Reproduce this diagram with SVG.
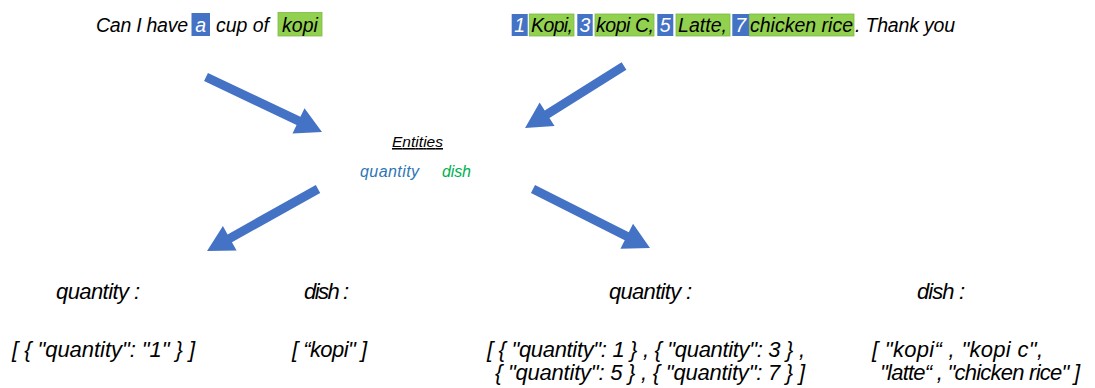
<svg xmlns="http://www.w3.org/2000/svg" width="1095" height="388" viewBox="0 0 1095 388">
<style>
text{font-family:"Liberation Sans",Arial,sans-serif;font-style:italic;fill:#000}
.t19{font-size:19.5px}
.num{fill:#fff;text-anchor:middle}
.qb{fill:#4472C4}
.gb{fill:#92D050;stroke:#7DBA45;stroke-width:0.8}
.lbl{font-size:22px}
.arrow{fill:#4472C4}
</style>
<rect width="1095" height="388" fill="#fff"/>
<g id="input1" class="t19">
<text x="96" y="32" textLength="92">Can I have</text>
<rect class="qb" x="191.5" y="13" width="18.5" height="23"/>
<text class="num" x="200.7" y="32">a</text>
<text x="216" y="32" textLength="53">cup of</text>
<rect class="gb" x="278" y="12.5" width="44" height="23.5"/>
<text x="300" y="32" text-anchor="middle">kopi</text>
</g>
<g id="input2" class="t19">
<rect class="qb" x="511.7" y="14" width="16" height="22"/>
<text class="num" x="519.7" y="32">1</text>
<rect class="gb" x="529.3" y="14" width="44.7" height="22"/>
<text x="531" y="32" textLength="42">Kopi,</text>
<rect class="qb" x="577.3" y="14" width="15.4" height="22"/>
<text class="num" x="585" y="32">3</text>
<rect class="gb" x="595" y="14" width="59" height="22"/>
<text x="596" y="32" textLength="58">kopi C,</text>
<rect class="qb" x="657.3" y="14" width="16" height="22"/>
<text class="num" x="665.3" y="32">5</text>
<rect class="gb" x="676" y="14" width="54" height="22"/>
<text x="678" y="32" textLength="49">Latte,</text>
<rect class="qb" x="732.3" y="14" width="17" height="22"/>
<text class="num" x="740.8" y="32">7</text>
<rect class="gb" x="749.3" y="14" width="104.7" height="22"/>
<text x="750" y="32" textLength="103">chicken rice</text>
<text x="855" y="32" textLength="100">. Thank you</text>
</g>
<g id="entities">
<text x="392" y="147" font-size="15.5" textLength="51" text-decoration="underline">Entities</text>
<text x="360" y="177" font-size="16" textLength="59" style="fill:#2E75B6">quantity</text>
<text x="442" y="177" font-size="16" textLength="29" style="fill:#00B050">dish</text>
</g>
<g id="connectors" class="arrow">
<path transform="translate(206,77) rotate(25.4)" d="M0,-4.5 L102.4,-4.5 L102.4,-14 L128.4,0 L102.4,14 L102.4,4.5 L0,4.5 Z"/>
<path transform="translate(624,66) rotate(147.9)" d="M0,-4.5 L90.8,-4.5 L90.8,-14 L116.8,0 L90.8,14 L90.8,4.5 L0,4.5 Z"/>
<path transform="translate(318,189) rotate(150.8)" d="M0,-4.5 L101.1,-4.5 L101.1,-14 L127.1,0 L101.1,14 L101.1,4.5 L0,4.5 Z"/>
<path transform="translate(533,189) rotate(26.76)" d="M0,-4.5 L105,-4.5 L105,-14 L131,0 L105,14 L105,4.5 L0,4.5 Z"/>
</g>
<g id="out-quantity-1" class="lbl">
<text x="56" y="299" textLength="84">quantity :</text>
<text x="12" y="357" textLength="183">[ { "quantity": "1" } ]</text>
</g>
<g id="out-dish-1" class="lbl">
<text x="304" y="299" textLength="45">dish :</text>
<text x="292" y="357" textLength="75">[ “kopi" ]</text>
</g>
<g id="out-quantity-2" class="lbl">
<text x="609" y="299" textLength="83">quantity :</text>
<text x="487" y="357" textLength="318">[ { "quantity": 1 } , { "quantity": 3 } ,</text>
<text x="495" y="380" textLength="310">{ "quantity": 5 } , { "quantity": 7 } ]</text>
</g>
<g id="out-dish-2" class="lbl">
<text x="917" y="299" textLength="48">dish :</text>
<text x="872" y="357" textLength="171">[ "kopi“ , "kopi c",</text>
<text x="880" y="380" textLength="200">"latte“ , "chicken rice" ]</text>
</g>
</svg>
